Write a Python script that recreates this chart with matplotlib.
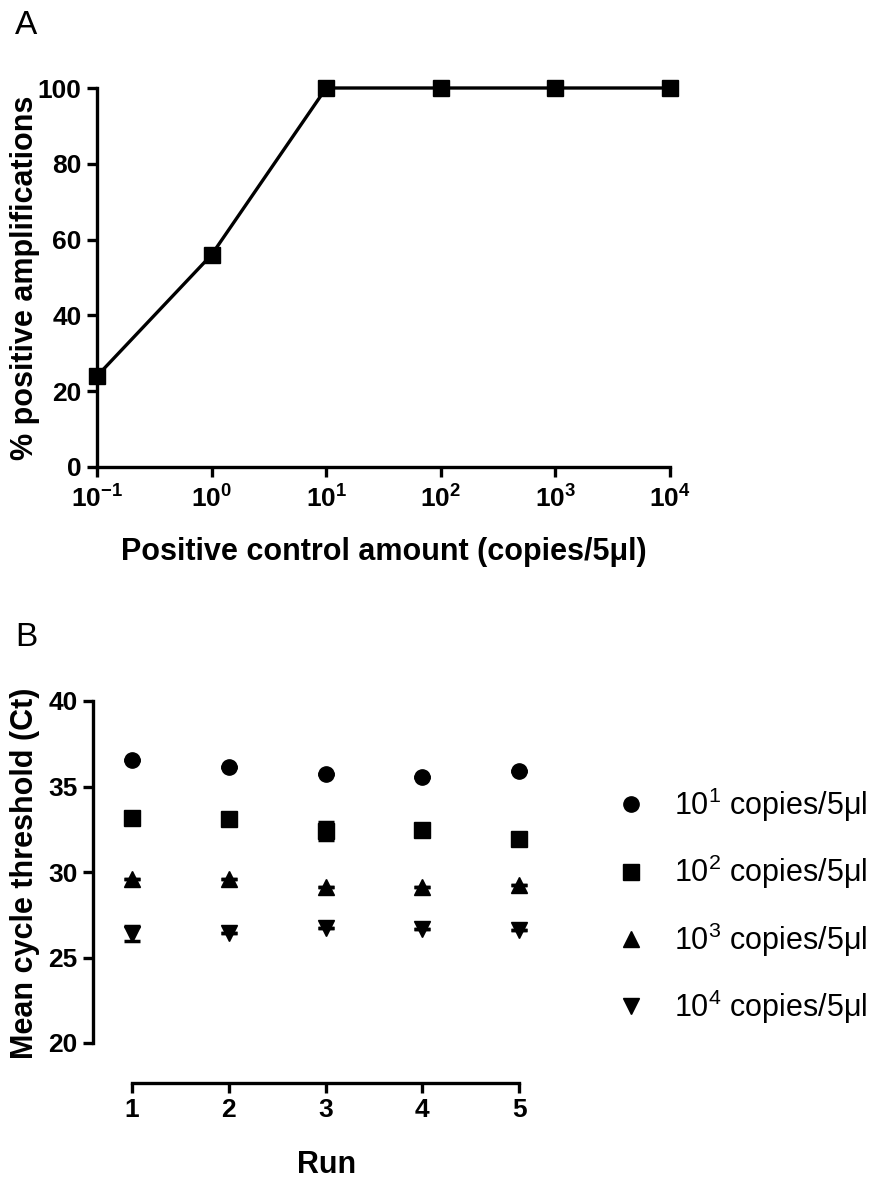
import numpy as np
import matplotlib
matplotlib.use("Agg")
import matplotlib.pyplot as plt

plt.rcParams['font.family'] = ['Liberation Sans', 'DejaVu Sans']
plt.rcParams['mathtext.fontset'] = 'custom'
plt.rcParams['mathtext.rm'] = 'Liberation Sans'
plt.rcParams['mathtext.bf'] = 'Liberation Sans:bold'
plt.rcParams['mathtext.it'] = 'Liberation Sans:italic'

# panel A: detection rate vs positive control amount
copies = [0.1, 1, 10, 100, 1000, 10000]
pct_positive = [24, 56, 100, 100, 100, 100]
copy_ticks = [r'$\mathbf{10^{-1}}$', r'$\mathbf{10^{0}}$', r'$\mathbf{10^{1}}$',
              r'$\mathbf{10^{2}}$', r'$\mathbf{10^{3}}$', r'$\mathbf{10^{4}}$']

# panel B: mean Ct per run (SD bars, most hidden by the markers)
runs = [1, 2, 3, 4, 5]
ct_1e1 = [36.55, 36.15, 35.75, 35.55, 35.9]
ct_1e2 = [33.15, 33.1, 32.4, 32.45, 31.95]
ct_1e3 = [29.6, 29.6, 29.15, 29.15, 29.25]
ct_1e4 = [26.4, 26.45, 26.7, 26.65, 26.6]
err_1e1 = [0, 0, 0, 0, 0]
err_1e2 = [0, 0, 0.5, 0, 0]
err_1e3 = [0, 0, 0, 0, 0]
err_1e4 = [0.45, 0, 0, 0, 0]
series_labels = [r'10$^{1}$ copies/5μl', r'10$^{2}$ copies/5μl',
                 r'10$^{3}$ copies/5μl', r'10$^{4}$ copies/5μl']

W, H = 875, 1184
fig = plt.figure(figsize=(W / 100, H / 100), dpi=100)

LW = 2.4
TICK = 19
LABEL = 22


def style_axis(ax):
    for s in ['top', 'right']:
        ax.spines[s].set_visible(False)
    for s in ['left', 'bottom']:
        ax.spines[s].set_linewidth(LW)
    ax.tick_params(width=LW, length=7, labelsize=TICK, pad=4)
    for lab in ax.get_yticklabels() + ax.get_xticklabels():
        lab.set_fontweight('bold')


# ---- A ----
axA = fig.add_axes([97 / W, 1 - 467 / H, (670 - 97) / W, (467 - 88) / H])
axA.plot(copies, pct_positive, color='black', lw=LW, marker='s', ms=11, clip_on=False)
axA.set_xscale('log')
axA.set_xlim(0.1, 10000)
axA.set_ylim(0, 100)
axA.set_xticks(copies)
axA.set_xticklabels(copy_ticks)
axA.xaxis.set_minor_locator(matplotlib.ticker.NullLocator())
axA.set_yticks([0, 20, 40, 60, 80, 100])
style_axis(axA)
axA.tick_params(axis='x', pad=6)
axA.set_xlabel('Positive control amount (copies/5μl)', fontsize=LABEL, fontweight='bold', labelpad=18)
axA.set_ylabel('% positive amplifications', fontsize=LABEL, fontweight='bold')
axA.yaxis.set_label_coords(-0.1, 0.5)
fig.text(15 / W, 1 - 10 / H, 'A', fontsize=24, va='top', ha='left')

# ---- B ----
axB = fig.add_axes([93 / W, 1 - 1083 / H, (560 - 93) / W, (1083 - 701) / H])
markers = ['o', 's', '^', 'v']
for ct, err, m, lab in zip([ct_1e1, ct_1e2, ct_1e3, ct_1e4],
                           [err_1e1, err_1e2, err_1e3, err_1e4],
                           markers, series_labels):
    axB.errorbar(runs, ct, yerr=err, fmt=m, color='black', ms=11, elinewidth=2,
                 capsize=6, capthick=2.5, label=lab, clip_on=False)
axB.set_xlim(0.6, 5.42)
axB.set_ylim(20 - 40 / 17.1, 40)
axB.set_xticks(runs)
axB.set_yticks([20, 25, 30, 35, 40])
axB.spines['left'].set_bounds(20, 40)
axB.spines['bottom'].set_bounds(1, 5)
style_axis(axB)
axB.set_xlabel('Run', fontsize=LABEL, fontweight='bold', labelpad=20)
axB.set_ylabel('Mean cycle threshold (Ct)', fontsize=LABEL, fontweight='bold')
axB.yaxis.set_label_coords(-0.113, 0.55)
handles, labels = axB.get_legend_handles_labels()
handles = [h[0] for h in handles]
axB.legend(handles, labels, loc='upper left', bbox_to_anchor=(1.1, 0.81),
           frameon=False, fontsize=22, handlelength=0.8, handletextpad=1.0,
           labelspacing=0.95, borderaxespad=0)
fig.text(15 / W, 1 - 622 / H, 'B', fontsize=24, va='top', ha='left')

fig.savefig('out.png', dpi=100)
